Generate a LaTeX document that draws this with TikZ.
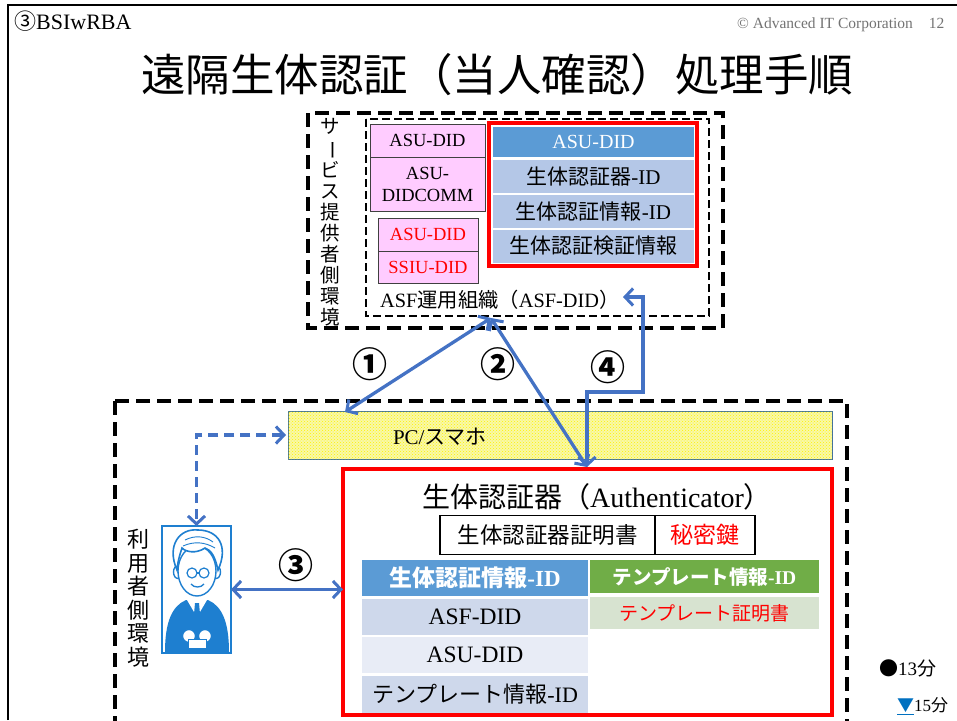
\documentclass[tikz,border=0pt]{standalone}
\usepackage{fontspec}
\setmainfont{Liberation Serif}
\newfontfamily\jp{Noto Sans CJK JP}
\usetikzlibrary{arrows.meta,patterns}
\newcommand\fsz[1]{\fontsize{#1}{#1}\selectfont}
\definecolor{linkblue}{HTML}{4472C4}
\definecolor{hdrblue}{HTML}{5B9BD5}
\definecolor{rowblue}{HTML}{B4C7E7}
\definecolor{rowblueA}{HTML}{CED8EB}
\definecolor{rowblueB}{HTML}{E8ECF6}
\definecolor{hdrgreen}{HTML}{70AD47}
\definecolor{rowgreen}{HTML}{D7E3D0}
\definecolor{pinkfill}{HTML}{FFCCFF}
\definecolor{alert}{HTML}{FF0000}
\definecolor{pcborder}{HTML}{41719C}
\definecolor{pcfill}{HTML}{F8F8A8}
\definecolor{figblue}{HTML}{1E7FD0}
\definecolor{triblue}{HTML}{0070C0}
\begin{document}
\begin{tikzpicture}[x=1pt,y=-1pt,
  cell/.style={rectangle, inner sep=0pt, outer sep=0pt, align=center},
  pinkcell/.style={cell, draw=black!75, line width=0.8pt, fill=pinkfill, font=\fsz{18.5}},
  bluecell/.style={cell, fill=rowblue, font=\fsz{21}},
  thickdash/.style={draw=black, line width=4pt, dash pattern=on 14pt off 7pt},
  thindash/.style={draw=black, line width=2pt, dash pattern=on 8pt off 4pt},
  flow/.style={draw=linkblue, line width=3.3pt, line join=miter,
    arrows={Straight Barb[length=8pt,width=17pt,line width=3pt]-Straight Barb[length=8pt,width=17pt,line width=3pt]}},
  stepnum/.style={font=\jp\bfseries\fsz{35}},
  redframe/.style={draw=alert, line width=3.5pt}]
\useasboundingbox (0,0) rectangle (957,720);

% slide frame
\draw[line width=2pt] (8,720) -- (8,5) -- (957,5);

% header and title
\node[anchor=west, inner sep=0pt] (hdr) at (14,21) {\fsz{22}{\jp ③}BSIwRBA};
\node[anchor=west, inner sep=0pt, text=black!55] (copy) at (737,25) {\fsz{15.5}\textcopyright{} Advanced IT Corporation\hspace{16pt}12};
\node[inner sep=0pt] (title) at (497,75) {\jp\fsz{44.5}遠隔生体認証（当人確認）処理手順};

% ---------- service provider side ----------
\draw[thickdash] (308,113) rectangle (723,328);
\draw[thindash] (366,119) rectangle (709,316);
\node[inner sep=0pt, align=center, font=\jp\fontsize{19.5}{21}\selectfont] (svc) at (330,222)
  {サ\\\rotatebox[origin=c]{-90}{ー}\\ビ\\ス\\提\\供\\者\\側\\環\\境};

\node[pinkcell, minimum width=115pt, minimum height=33pt] (pk1) at (427.5,140.5) {ASU-DID};
\node[pinkcell, minimum width=115pt, minimum height=54pt, font=\fontsize{18.5}{22}\selectfont] (pk2) at (427.5,184) {ASU-\\DIDCOMM};
\node[pinkcell, minimum width=100pt, minimum height=33pt, text=alert] (pk3) at (428,234.5) {ASU-DID};
\node[pinkcell, minimum width=100pt, minimum height=32pt, text=alert] (pk4) at (428,267) {SSIU-DID};

\draw[redframe] (489,123) rectangle (697,266);
\node[cell, fill=hdrblue, text=white, font=\fsz{20}, minimum width=201pt, minimum height=30pt] (rh) at (593.5,142) {ASU-DID};
\node[bluecell, minimum width=201pt, minimum height=33pt] (r1) at (593.5,176.5) {{\jp 生体認証器}-ID};
\node[bluecell, minimum width=201pt, minimum height=33pt] (r2) at (593.5,211.5) {{\jp 生体認証情報}-ID};
\node[bluecell, minimum width=201pt, minimum height=33pt] (r3) at (593.5,246) {\jp 生体認証検証情報};

\node[anchor=west, inner sep=0pt, font=\fsz{20.3}] (asf) at (380,300) {ASF{\jp 運用組織（}ASF-DID{\jp ）}};
\coordinate (hub) at (491,318);
\coordinate (asfin) at (623,297);

% ---------- user side ----------
\draw[thickdash] (115,401) -- (847,401) -- (847,728);
\draw[thickdash] (115,401) -- (115,728);

\node[cell, draw=pcborder, line width=0.8pt, fill=pcfill, minimum width=544pt, minimum height=48pt] (pcbg) at (560,435) {};
\fill[pattern=crosshatch dots, pattern color=yellow!90!orange] (pcbg.south west) rectangle (pcbg.north east);
\node[inner sep=0pt, font=\fsz{21}] (pc) at (440,437) {PC/{\jp スマホ}};
\coordinate (pcin) at (345,412);

\node[inner sep=0pt, align=center, font=\jp\fontsize{22}{23.5}\selectfont] (usr) at (138,598)
  {利\\用\\者\\側\\環\\境};

% user illustration
\node[cell, draw=figblue, line width=2pt, fill=white, minimum width=69pt, minimum height=127pt] (person) at (196.5,589.5) {};
\begin{scope}
  \clip (163,527) rectangle (230,652);
  \fill[figblue] (165,652) .. controls (165,622) and (172,606) .. (186,600) -- (208,600) .. controls (222,606) and (229,622) .. (229,652) -- cycle;
  \fill[white] (187,600) -- (197,617) -- (207,600) -- cycle;
  \fill[figblue] (195,603) -- (199,603) -- (200,614) -- (197,619) -- (194,614) -- cycle;
  \draw[figblue, line width=1.4pt, fill=white] (178,572) ellipse [x radius=4.5, y radius=6.5];
  \draw[figblue, line width=1.4pt, fill=white] (216,572) ellipse [x radius=4.5, y radius=6.5];
  \draw[figblue, line width=1.4pt, fill=white] (197,571) ellipse [x radius=19, y radius=25];
  \draw[figblue, line width=1.6pt, fill=white] (177,570) .. controls (166,545) and (180,528) .. (198,530)
     .. controls (218,530) and (229,546) .. (218,570) .. controls (215,556) and (211,550) .. (205,548)
     .. controls (196,554) and (186,552) .. (182,548) .. controls (180,554) and (178,560) .. (177,570) -- cycle;
  \draw[figblue, line width=0.9pt] (185,540) .. controls (195,535) and (205,536) .. (213,542);
  \draw[figblue, line width=0.9pt] (183,546) .. controls (194,541) and (205,542) .. (215,548);
  \draw[figblue, line width=1.2pt] (192,573) circle [radius=5];
  \draw[figblue, line width=1.2pt] (204,573) circle [radius=5];
  \draw[figblue, line width=1.2pt] (197,573) -- (199,573);
  \draw[figblue, line width=1.3pt] (191,584) .. controls (194,588) and (201,588) .. (204,584);
  \draw[figblue, line width=1.3pt, fill=white] (189,636) circle [radius=6.5];
  \draw[figblue, line width=1.3pt, fill=white] (205,636) circle [radius=6.5];
  \draw[figblue, line width=1pt, fill=white] (188,639) rectangle (206,648);
\end{scope}

% authenticator
\node[cell, redframe, minimum width=489pt, minimum height=246pt] (auth) at (587.5,592) {};
\coordinate (authin) at (587,467);
\node[inner sep=0pt, font=\fsz{28}] (authttl) at (597,497) {{\jp 生体認証器（}Authenticator{\jp ）}};
\node[cell, draw=black, line width=1.2pt, minimum width=215pt, minimum height=39pt, font=\jp\fsz{22.5}] (cert) at (547.5,535) {生体認証器証明書};
\node[cell, draw=black, line width=1.2pt, minimum width=100pt, minimum height=39pt, font=\jp\fsz{23}, text=alert] (key) at (705,535) {秘密鍵};

\node[cell, fill=hdrblue, text=white, font=\fsz{23}\bfseries, minimum width=226pt, minimum height=36pt] (lh) at (475,578) {{\jp 生体認証情報}-ID};
\node[cell, fill=rowblueA, font=\fsz{23.5}, minimum width=226pt, minimum height=36pt] (l1) at (475,617) {ASF-DID};
\node[cell, fill=rowblueB, font=\fsz{23.5}, minimum width=226pt, minimum height=36pt] (l2) at (475,655) {ASU-DID};
\node[cell, fill=rowblueA, font=\fsz{22}, minimum width=226pt, minimum height=37pt] (l3) at (475,694.5) {{\jp テンプレート情報}-ID};

\node[cell, fill=hdrgreen, text=white, font=\fsz{19.5}\bfseries, minimum width=229pt, minimum height=33pt] (gh) at (704.5,576.5) {{\jp テンプレート情報}-ID};
\node[cell, fill=rowgreen, text=alert, font=\jp\fsz{19}, minimum width=229pt, minimum height=32pt] (g1) at (704.5,613) {テンプレート証明書};

% connectors
\draw[flow] (hub) -- (pcin);
\draw[flow] (hub) -- (authin);
\draw[flow] (asfin) -- (643,297) -- (643,392) -- (587,392) -- (authin);
\draw[flow] (person.east) -- (person.east -| auth.west);
\draw[flow, dash pattern=on 10pt off 6pt] (pc.west -| pcbg.west) ++(-2,-2) coordinate (pcl) (pcl) -| (person.north);

\node[stepnum] (s1) at (370,364) {①};
\node[stepnum] (s2) at (498,364) {②};
\node[stepnum] (s4) at (608,367) {④};
\node[stepnum] (s3) at (296,565) {③};

% timing notes
\node[anchor=west, inner sep=0pt, font=\fsz{19}] (t13) at (879,668) {{\jp ●}13{\jp 分}};
\node[anchor=west, inner sep=0pt, font=\fsz{17}] (t15) at (897,706) {{\color{triblue}\underline{\jp ▼}}15{\jp 分}};
\end{tikzpicture}
\end{document}
